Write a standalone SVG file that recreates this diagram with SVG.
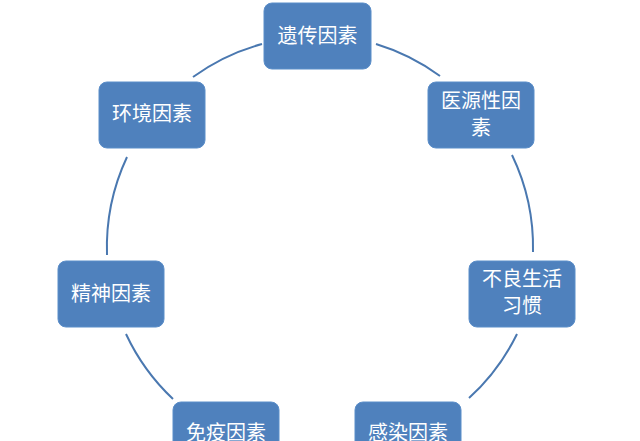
<svg xmlns="http://www.w3.org/2000/svg" width="640" height="441" viewBox="0 0 640 441">
<style>
.n rect{fill:#4f81bd;stroke:#5b8ec9;stroke-width:1}
.n text{fill:#fff;font-family:"Noto Sans CJK SC","Noto Sans CJK JP",sans-serif;font-size:20px;text-anchor:middle}
.c path{fill:none;stroke:#4a78b0;stroke-width:2}
</style>
<rect width="640" height="441" fill="#fff"/>
<g class="c" id="connectors">
<path d="M376,44 A213,213 0 0 1 440,76"/>
<path d="M512,155 A213,213 0 0 1 533,252"/>
<path d="M517,334 A213,213 0 0 1 469,398"/>
<path d="M173,399 A213,213 0 0 1 126,334"/>
<path d="M107,255 A213,213 0 0 1 127,157"/>
<path d="M193,77 A213,213 0 0 1 262,44"/>
</g>
<g class="n" id="n1"><rect x="264" y="3" width="107" height="66" rx="8"/><text x="317.5" y="43">遗传因素</text></g>
<g class="n" id="n2"><rect x="428" y="82" width="106" height="66" rx="8"/><text x="481" y="108">医源性因</text><text x="481" y="135">素</text></g>
<g class="n" id="n3"><rect x="99" y="82" width="106" height="66" rx="8"/><text x="152" y="121">环境因素</text></g>
<g class="n" id="n4"><rect x="58" y="261" width="106" height="66" rx="8"/><text x="111" y="301">精神因素</text></g>
<g class="n" id="n5"><rect x="469" y="261" width="106" height="66" rx="8"/><text x="522" y="286">不良生活</text><text x="522" y="313">习惯</text></g>
<g class="n" id="n6"><rect x="173" y="402" width="106" height="66" rx="8"/><text x="226" y="440">免疫因素</text></g>
<g class="n" id="n7"><rect x="355" y="402" width="106" height="66" rx="8"/><text x="408" y="440">感染因素</text></g>
</svg>
